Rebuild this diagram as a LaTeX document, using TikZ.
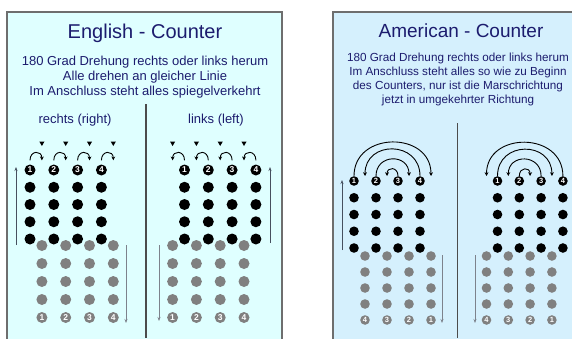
\documentclass[tikz,border=0pt]{standalone}
\usepackage{fontspec}
\setmainfont{Liberation Sans}
\usetikzlibrary{arrows.meta}

\definecolor{englishbg}{RGB}{223,255,255}
\definecolor{americanbg}{RGB}{213,240,253}
\definecolor{headblue}{RGB}{28,28,110}
\definecolor{framegray}{RGB}{110,110,110}
\definecolor{dotgray}{RGB}{128,128,128}
\definecolor{upgray}{RGB}{70,80,95}
\definecolor{downgray}{RGB}{125,130,140}

\begin{document}
\begin{tikzpicture}[x=1pt, y=1pt,
    bdot/.style={circle, fill=black, inner sep=0pt, minimum size=11pt, text=white, font=\bfseries\fontsize{8.5}{8.5}\selectfont},
    gdot/.style={bdot, fill=dotgray},
    sbdot/.style={bdot, minimum size=9.6pt, font=\bfseries\fontsize{7.5}{7.5}\selectfont},
    sgdot/.style={sbdot, fill=dotgray},
    turn/.style={-{Stealth[length=3.8pt,width=3.8pt]}, line width=0.9pt},
    upline/.style={-{Stealth[length=4pt,width=3pt]}, line width=0.9pt, upgray},
    downline/.style={-{Stealth[length=4pt,width=3pt]}, line width=0.9pt, downgray},
    ]
    \useasboundingbox (0,0) rectangle (572,-338);
    \clip (0,0) rectangle (572,-338);

    % the two boards
    \fill[englishbg] (7,-12) rectangle (282,-345);
    \draw[framegray, line width=1.3pt] (7,-345) -- (7,-12) -- (282,-12) -- (282,-345);
    \fill[americanbg] (333,-12) rectangle (580,-345);
    \draw[framegray, line width=1.3pt] (333,-345) -- (333,-12) -- (580,-12);

    \draw[black!70, line width=1.4pt] (146,-104) -- (146,-338);
    \draw[black!70, line width=1.4pt] (457.5,-123) -- (457.5,-338);

    % texts
    \node[headblue, font=\fontsize{20}{24}\selectfont] (engtitle) at (145,-33.5) {English - Counter};
    \node[headblue, align=center, font=\fontsize{13}{15}\selectfont] (engtext) at (145,-77)
        {180 Grad Drehung rechts oder links herum\\Alle drehen an gleicher Linie\\Im Anschluss steht alles spiegelverkehrt};
    \node[headblue, font=\fontsize{13}{15}\selectfont] (rechts) at (75,-120) {rechts (right)};
    \node[headblue, font=\fontsize{13}{15}\selectfont] (links) at (216,-120) {links (left)};

    \node[headblue, font=\fontsize{19}{23}\selectfont] (amtitle) at (461,-31) {American - Counter};
    \node[headblue, align=center, font=\fontsize{11.7}{14}\selectfont] (amtext) at (458,-79)
        {180 Grad Drehung rechts oder links herum\\Im Anschluss steht alles so wie zu Beginn\\des Counters, nur ist die Marschrichtung\\jetzt in umgekehrter Richtung};

    % English, rechts
    \foreach \i in {1,...,4} {
        \pgfmathsetmacro{\xb}{30+23.8*(\i-1)}
        \pgfmathsetmacro{\xg}{\xb+11.9}
        \node[bdot] (r\i) at (\xb,-170) {\i};
        \foreach \k in {1,...,4} \node[bdot] (r\i-\k) at (\xb,-170-17.25*\k) {};
        \foreach \k in {0,...,3} \node[gdot] (rg\i-\k) at (\xg,-245.5-18*\k) {};
        \node[gdot] (rg\i) at (\xg,-317.5) {\i};
        \fill (\xg-2.6,-141.5) -- (\xg+2.6,-141.5) -- (\xg,-146) -- cycle;
        \draw[turn] ([yshift=4pt]r\i.north) to[out=90,in=90,looseness=2.2] ([xshift=11.9pt,yshift=4pt]r\i.north);
    }
    \draw[upline] (16,-245) -- (16,-167);
    \draw[downline] (126,-245) -- (126,-323);

    % English, links
    \foreach \i in {1,...,4} {
        \pgfmathsetmacro{\xb}{184.5+23.8*(\i-1)}
        \pgfmathsetmacro{\xg}{\xb-11.9}
        \node[bdot] (l\i) at (\xb,-170) {\i};
        \foreach \k in {1,...,4} \node[bdot] (l\i-\k) at (\xb,-170-17.25*\k) {};
        \foreach \k in {0,...,3} \node[gdot] (lg\i-\k) at (\xg,-245.5-18*\k) {};
        \node[gdot] (lg\i) at (\xg,-317.5) {\i};
        \fill (\xg-2.6,-141.5) -- (\xg+2.6,-141.5) -- (\xg,-146) -- cycle;
        \draw[turn] ([yshift=4pt]l\i.north) to[out=90,in=90,looseness=2.2] ([xshift=-11.9pt,yshift=4pt]l\i.north);
    }
    \draw[upline] (270,-243) -- (270,-167);
    \draw[downline] (159,-245) -- (159,-321);

    % American, left group
    \foreach \i in {1,...,4} {
        \pgfmathsetmacro{\xb}{354+22*(\i-1)}
        \pgfmathsetmacro{\xg}{\xb+11}
        \pgfmathtruncatemacro{\n}{5-\i}
        \node[sbdot] (al\i) at (\xb,-181) {\i};
        \foreach \k in {1,...,4} \node[sbdot] (al\i-\k) at (\xb,-181-16.75*\k) {};
        \foreach \k in {0,...,3} \node[sgdot] (alg\i-\k) at (\xg,-256-16*\k) {};
        \node[sgdot] (alg\i) at (\xg,-320) {\n};
        \coordinate (alt\i) at (\xg,-176);
    }
    \draw[turn] (al1.north) to[out=90,in=90,looseness=1.5] (alt4);
    \draw[turn] (al4.north) to[out=90,in=90,looseness=1.67] (alt1);
    \draw[turn] (al2.north) to[out=90,in=90,looseness=1.75] (alt3);
    \draw[turn] (al3.north) to[out=90,in=90,looseness=2.2] (alt2);
    \draw[upline] (342,-250) -- (342,-180);
    \draw[downline] (442,-255) -- (442,-323);

    % American, right group
    \foreach \i in {1,...,4} {
        \pgfmathsetmacro{\xb}{497.5+21.8*(\i-1)}
        \pgfmathsetmacro{\xg}{\xb-11}
        \pgfmathtruncatemacro{\n}{5-\i}
        \node[sbdot] (ar\i) at (\xb,-181) {\i};
        \foreach \k in {1,...,4} \node[sbdot] (ar\i-\k) at (\xb,-181-16.75*\k) {};
        \foreach \k in {0,...,3} \node[sgdot] (arg\i-\k) at (\xg,-256-16*\k) {};
        \node[sgdot] (arg\i) at (\xg,-320) {\n};
        \coordinate (art\i) at (\xg,-176);
    }
    \draw[turn] (ar4.north) to[out=90,in=90,looseness=1.5] (art1);
    \draw[turn] (ar1.north) to[out=90,in=90,looseness=1.67] (art4);
    \draw[turn] (ar3.north) to[out=90,in=90,looseness=1.75] (art2);
    \draw[turn] (ar2.north) to[out=90,in=90,looseness=2.2] (art3);
    \draw[downline] (475,-255) -- (475,-323);
\end{tikzpicture}
\end{document}
